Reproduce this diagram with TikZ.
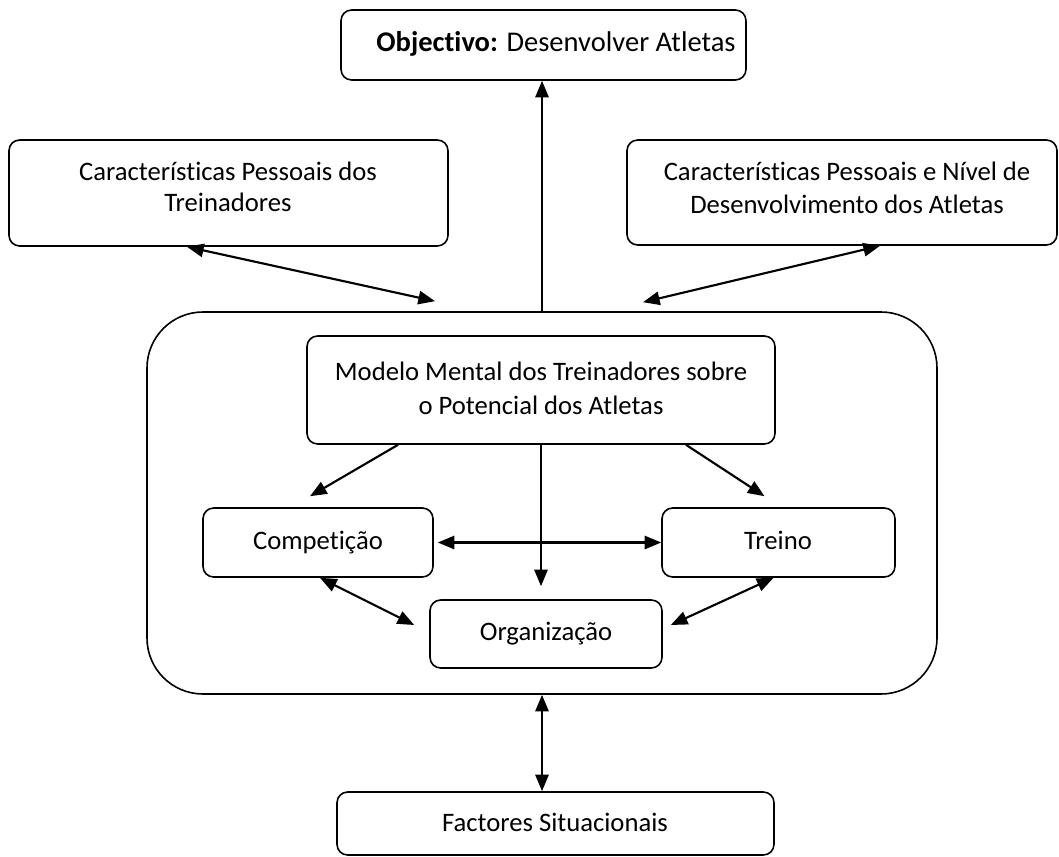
\documentclass[tikz,border=0pt]{standalone}
\usepackage{fontspec}
\setmainfont[RawFeature={-liga}]{Carlito}
\usetikzlibrary{arrows.meta,calc}
\begin{document}
\begin{tikzpicture}[x=0.75pt,y=-0.75pt,
  box/.style={draw,line width=1.2pt,rounded corners=8pt,inner sep=0pt},
  bigbox/.style={draw,line width=1.2pt,rounded corners=42pt,inner sep=0pt},
  txt/.style={font=\fontsize{20}{24}\selectfont,align=center,anchor=base,inner sep=0pt},
  conn/.style={line width=1.6pt,{Triangle[length=12.5pt,width=10pt]}-{Triangle[length=12.5pt,width=10pt]}},
  conn1/.style={line width=1.6pt,-{Triangle[length=12.5pt,width=10pt]}}]
\useasboundingbox (0,0) rectangle (1059,856);
% boxes
\node[box,minimum width=405*0.75pt,minimum height=70*0.75pt] (obj) at (543.5,45) {};
\node[box,minimum width=439*0.75pt,minimum height=106*0.75pt] (coach) at (228.5,193) {};
\node[box,minimum width=430*0.75pt,minimum height=105*0.75pt] (athl) at (842,192.5) {};
\node[bigbox,minimum width=790*0.75pt,minimum height=382*0.75pt] (big) at (542,503) {};
\node[box,minimum width=468*0.75pt,minimum height=108*0.75pt] (model) at (541,390) {};
\node[box,minimum width=230*0.75pt,minimum height=69*0.75pt] (comp) at (318,542.5) {};
\node[box,minimum width=233*0.75pt,minimum height=69*0.75pt] (treino) at (778.5,542.5) {};
\node[box,minimum width=232*0.75pt,minimum height=68*0.75pt] (org) at (546,634) {};
\node[box,minimum width=437*0.75pt,minimum height=63*0.75pt] (fact) at (555.5,823.5) {};
% texts
\node[txt,font=\fontsize{21.4}{25}\selectfont] (objT) at (556,51) {\textbf{Objectivo:} Desenvolver Atletas};
\node[txt] (coachT1) at (228,180) {Características Pessoais dos};
\node[txt] (coachT2) at (228,211) {Treinadores};
\node[txt] (athlT1) at (847,180) {Características Pessoais e Nível de};
\node[txt] (athlT2) at (847,213) {Desenvolvimento dos Atletas};
\node[txt] (modelT1) at (541,380) {Modelo Mental dos Treinadores sobre};
\node[txt] (modelT2) at (541,414) {o Potencial dos Atletas};
\node[txt] (compT) at (318,549) {Competição};
\node[txt] (treinoT) at (778,549) {Treino};
\node[txt] (orgT) at (546,640) {Organização};
\node[txt] (factT) at (555,831) {Factores Situacionais};
% connectors
\draw[conn1] (big.north) -- (big.north |- obj.south);
\draw[conn] ([shift={(-41.5,0)}]coach.south) -- ([shift={(-107,-10)}]big.north);
\draw[conn] ([shift={(38,0)}]athl.south) -- ([shift={(101,-9)}]big.north);
\draw[conn1] ([shift={(-143,0)}]model.south) -- ([shift={(-8,-11)}]comp.north);
\draw[conn1] ([shift={(145,0)}]model.south) -- ([shift={(-14,-11)}]treino.north);
\draw[conn1] (model.south) -- ([shift={(0,-13)}]model.south |- org.north);
\draw[conn] ([shift={(4,0)}]comp.east) -- (treino.west);
\draw[conn] ([shift={(2,0)}]comp.south) -- ([shift={(-15,-9)}]org.west);
\draw[conn] ([shift={(-5,0)}]treino.south) -- ([shift={(8,-9)}]org.east);
\draw[conn] (big.south) -- (big.south |- fact.north);
\end{tikzpicture}
\end{document}
